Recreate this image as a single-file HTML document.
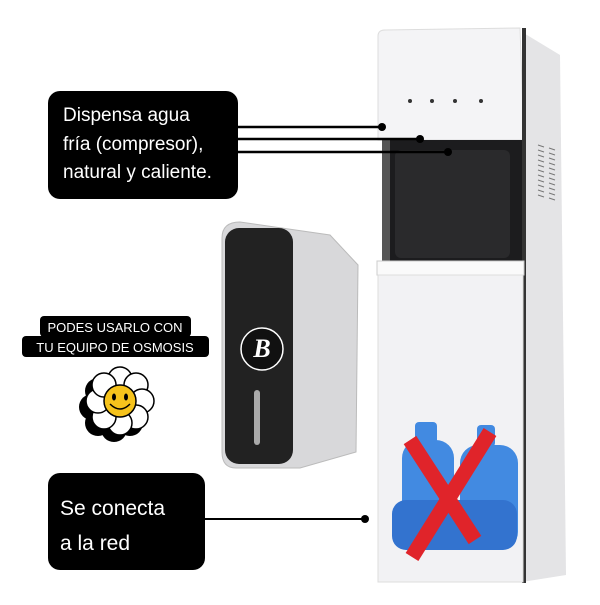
<!DOCTYPE html>
<html><head><meta charset="utf-8"><style>
body{margin:0;background:#fff;width:600px;height:600px;overflow:hidden;font-family:"Liberation Sans",sans-serif}
</style></head><body>
<svg width="600" height="600" viewBox="0 0 600 600" xmlns="http://www.w3.org/2000/svg">
<rect width="600" height="600" fill="#fff"/>
<!-- dispenser side -->
<polygon points="522,32 560,55 566,575 522,582" fill="#e4e4e6"/>
<g stroke="#777" stroke-width="1">
<path d="M538,145 l6,2 M538,150 l6,2 M538,155 l6,2 M538,160 l6,2 M538,165 l6,2 M538,170 l6,2 M538,175 l6,2 M538,180 l6,2 M538,185 l6,2 M538,190 l6,2 M538,195 l6,2"/>
<path d="M549,148 l6,2 M549,153 l6,2 M549,158 l6,2 M549,163 l6,2 M549,168 l6,2 M549,173 l6,2 M549,178 l6,2 M549,183 l6,2 M549,188 l6,2 M549,193 l6,2 M549,198 l6,2"/>
</g>
<!-- front top -->
<path d="M378,36 Q378,30 385,30 L520,28 L524,140 L378,140 Z" fill="#f4f4f6" stroke="#ddd"/>
<rect x="522" y="28" width="4" height="555" fill="#333"/>
<g fill="#333"><circle cx="410" cy="101" r="2"/><circle cx="432" cy="101" r="2"/><circle cx="455" cy="101" r="2"/><circle cx="481" cy="101" r="2"/></g>
<!-- black recess -->
<rect x="382" y="140" width="140" height="122" fill="#1c1c1e"/>
<rect x="395" y="150" width="115" height="108" rx="6" fill="#2a2a2c"/>
<rect x="382" y="140" width="8" height="122" fill="#555"/>
<!-- ledge -->
<rect x="377" y="261" width="147" height="14" fill="#fafafa" stroke="#ccc"/>
<!-- lower body -->
<rect x="378" y="275" width="145" height="307" fill="#f2f2f4" stroke="#ddd"/>
<!-- bottles -->
<g fill="#2f7fe0" opacity="0.9">
<rect x="402" y="440" width="52" height="110" rx="18"/>
<rect x="415" y="422" width="22" height="22" rx="4"/>
<rect x="460" y="445" width="58" height="105" rx="18"/>
<rect x="477" y="425" width="18" height="22" rx="4"/>
<rect x="392" y="500" width="125" height="50" rx="14" fill="#1f66cc"/>
</g>
<g stroke="#e0242a" stroke-width="15" stroke-linecap="butt">
<line x1="410" y1="440" x2="475" y2="540"/>
<line x1="490" y1="432" x2="412" y2="557"/>
</g>
<!-- osmosis unit -->
<path d="M240,222 L330,235 L358,265 L356,452 L300,468 L236,468 Q222,468 222,452 L222,238 Q222,222 240,222 Z" fill="#d8d8da" stroke="#bbb"/>
<rect x="225" y="228" width="68" height="236" rx="14" fill="#222"/>
<circle cx="262" cy="349" r="21" fill="#111" stroke="#fff" stroke-width="1.5"/>
<text x="262" y="357" font-family="Liberation Serif,serif" font-style="italic" font-weight="bold" font-size="26" fill="#fff" text-anchor="middle">B</text>
<rect x="254" y="390" width="6" height="55" rx="3" fill="#aaa"/>
<!-- label 1 -->
<rect x="48" y="91" width="190" height="108" rx="12" fill="#000"/>
<g fill="#fff" font-size="19"><text x="63" y="121">Dispensa agua</text><text x="63" y="150">fría (compresor),</text><text x="63" y="178">natural y caliente.</text></g>
<g stroke="#000" stroke-width="2.5"><line x1="238" y1="127" x2="382" y2="127"/><line x1="238" y1="139" x2="420" y2="139"/><line x1="238" y1="152" x2="448" y2="152"/></g>
<circle cx="382" cy="127" r="4" fill="#000"/><circle cx="420" cy="139" r="4" fill="#000"/><circle cx="448" cy="152" r="4" fill="#000"/>
<!-- osmosis label -->
<rect x="40" y="316" width="151" height="21" rx="4" fill="#000"/>
<rect x="22" y="336" width="187" height="21" rx="4" fill="#000"/>
<g fill="#fff" font-size="13" text-anchor="middle"><text x="115" y="332">PODES USARLO CON</text><text x="115" y="352">TU EQUIPO DE OSMOSIS</text></g>
<!-- flower -->
<g transform="translate(114,407)" fill="#000"><g id="p"><circle cx="0" cy="-22" r="13"/><circle cx="16" cy="-16" r="13"/><circle cx="22" cy="0" r="13"/><circle cx="16" cy="16" r="13"/><circle cx="0" cy="22" r="13"/><circle cx="-16" cy="16" r="13"/><circle cx="-22" cy="0" r="13"/><circle cx="-16" cy="-16" r="13"/></g></g>
<g transform="translate(120,401)" fill="#fff" stroke="#000" stroke-width="1.5"><circle cx="0" cy="-22" r="12"/><circle cx="16" cy="-16" r="12"/><circle cx="22" cy="0" r="12"/><circle cx="16" cy="16" r="12"/><circle cx="0" cy="22" r="12"/><circle cx="-16" cy="16" r="12"/><circle cx="-22" cy="0" r="12"/><circle cx="-16" cy="-16" r="12"/></g>
<circle cx="120" cy="401" r="16" fill="#f6c31c" stroke="#000" stroke-width="1.5"/>
<ellipse cx="114" cy="397" rx="2" ry="3.5"/><ellipse cx="126" cy="397" rx="2" ry="3.5"/>
<path d="M110,404 Q120,414 130,404" fill="none" stroke="#000" stroke-width="1.5"/>
<!-- label 2 -->
<rect x="48" y="473" width="157" height="97" rx="12" fill="#000"/>
<g fill="#fff" font-size="21"><text x="60" y="515">Se conecta</text><text x="60" y="550">a la red</text></g>
<line x1="205" y1="519" x2="365" y2="519" stroke="#000" stroke-width="2"/>
<circle cx="365" cy="519" r="4" fill="#000"/>
</svg>
</body></html>
